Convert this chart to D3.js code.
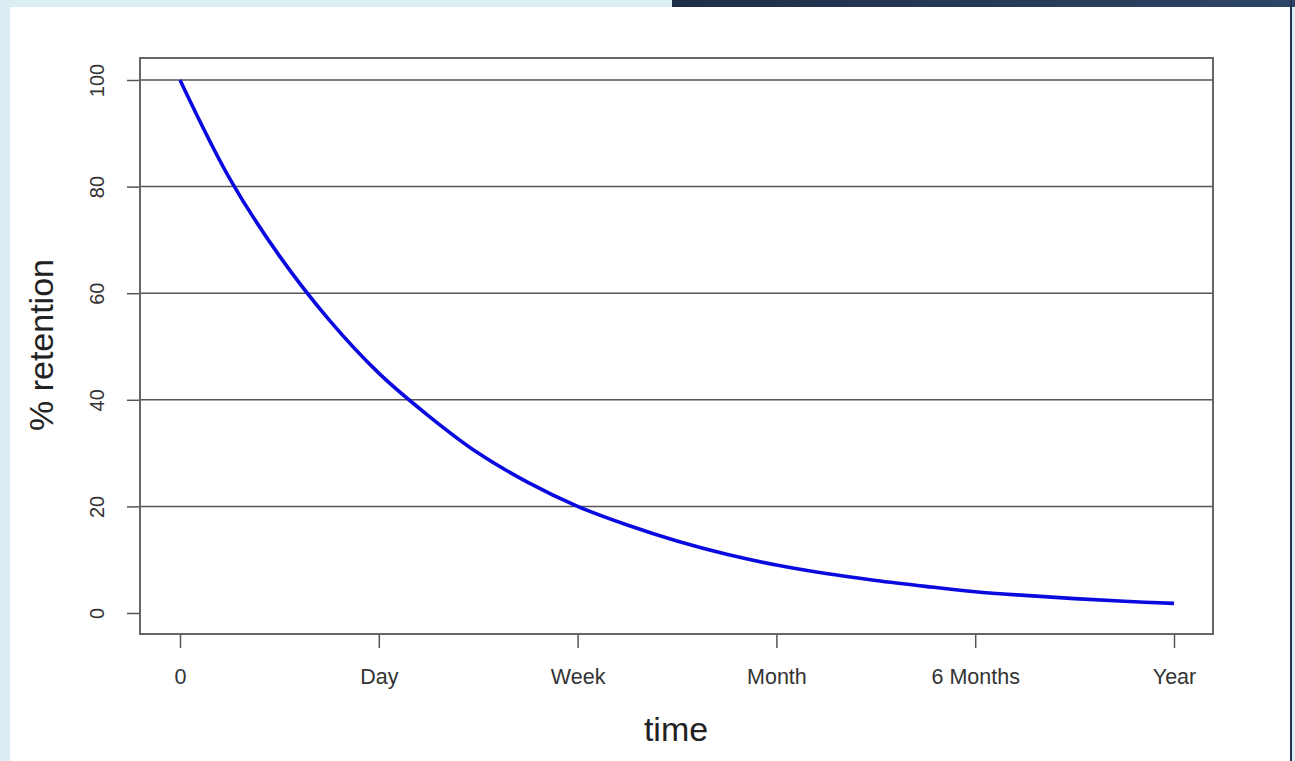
<!DOCTYPE html>
<html><head><meta charset="utf-8">
<script src="https://cdn.jsdelivr.net/npm/d3@7"></script>
<style>html,body{margin:0;padding:0;background:#dcedf3;overflow:hidden}</style>
</head><body>
<svg id="chart" width="1295" height="761"></svg>
<script>
// Data
const xCategories = ["0", "Day", "Week", "Month", "6 Months", "Year"];
const yTicks = [0, 20, 40, 60, 80, 100];
const timePos = [0, 0.25, 0.5, 0.75, 1, 1.25, 1.5, 1.75, 2, 2.25, 2.5, 2.75, 3, 3.25, 3.5, 3.75, 4, 4.25, 4.5, 4.75, 5];
const retention = [100, 81.5, 67, 55, 45, 37, 30, 24.5, 20, 16.5, 13.5, 11, 9, 7.4, 6.1, 5, 4, 3.3, 2.7, 2.2, 1.8];

const svg = d3.select("#chart");
const FONT = "Liberation Sans, Arial, sans-serif";
// background panels
svg.append("rect").attr("x", 0).attr("y", 0).attr("width", 1295).attr("height", 761).attr("fill", "#dcedf3");
svg.append("rect").attr("x", 10).attr("y", 7).attr("width", 1281).attr("height", 754).attr("fill", "#ffffff");
const grad = svg.append("defs").append("linearGradient").attr("id", "navy");
grad.append("stop").attr("offset", "0%").attr("stop-color", "#1f2e48");
grad.append("stop").attr("offset", "100%").attr("stop-color", "#2d4566");
svg.append("rect").attr("x", 672).attr("y", 0).attr("width", 623).attr("height", 7).attr("fill", "url(#navy)");
svg.append("rect").attr("x", 1290).attr("y", 0).attr("width", 2).attr("height", 761).attr("fill", "#22344f");

const box = {l: 140, t: 58, r: 1213, b: 634};
const x = d3.scaleLinear().domain([0, 5]).range([180, 1174]);
const y = d3.scaleLinear().domain([0, 100]).range([613, 80]);

// gridlines (not at 0)
svg.append("g").selectAll("line").data(yTicks.filter(d => d > 0)).join("line")
  .attr("x1", box.l).attr("x2", box.r)
  .attr("y1", d => y(d)).attr("y2", d => y(d))
  .attr("stroke", "#555").attr("stroke-width", 1.5);

// y axis
const yAxis = svg.append("g").attr("transform", `translate(${box.l},0)`)
  .call(d3.axisLeft(y).tickValues(yTicks).tickSize(13).tickPadding(0).tickFormat(d3.format("d")));
yAxis.select(".domain").remove();
yAxis.selectAll(".tick line").attr("stroke", "#555").attr("stroke-width", 1.5);
yAxis.selectAll(".tick text")
  .attr("transform", "rotate(-90)")
  .attr("x", 0).attr("y", -43).attr("dy", "0.35em")
  .attr("text-anchor", "middle")
  .attr("font-family", FONT)
  .attr("font-size", 20).attr("fill", "#333");

// x axis
const xAxis = svg.append("g").attr("transform", `translate(0,${box.b})`)
  .call(d3.axisBottom(x).tickValues([0,1,2,3,4,5]).tickSize(14).tickPadding(21)
    .tickFormat((d, i) => xCategories[i]));
xAxis.select(".domain").remove();
xAxis.selectAll(".tick line").attr("stroke", "#555").attr("stroke-width", 1.5);
xAxis.selectAll(".tick text")
  .attr("font-family", FONT)
  .attr("font-size", 21.5).attr("fill", "#333");

// plot box
svg.append("rect").attr("x", box.l).attr("y", box.t)
  .attr("width", box.r - box.l).attr("height", box.b - box.t)
  .attr("fill", "none").attr("stroke", "#666").attr("stroke-width", 2);

// curve
const line = d3.line().x((d, i) => x(timePos[i])).y(d => y(d)).curve(d3.curveCatmullRom.alpha(0.5));
svg.append("path").datum(retention).attr("d", line)
  .attr("fill", "none").attr("stroke", "#0a0ae0").attr("stroke-width", 3.6);

// axis titles
svg.append("text").attr("x", 676).attr("y", 741).attr("text-anchor", "middle")
  .attr("font-family", FONT).attr("font-size", 34).attr("fill", "#222")
  .text("time");
svg.append("text").attr("transform", "translate(53,345) rotate(-90)").attr("text-anchor", "middle")
  .attr("font-family", FONT).attr("font-size", 34).attr("fill", "#222")
  .text("% retention");
</script>
</body></html>
